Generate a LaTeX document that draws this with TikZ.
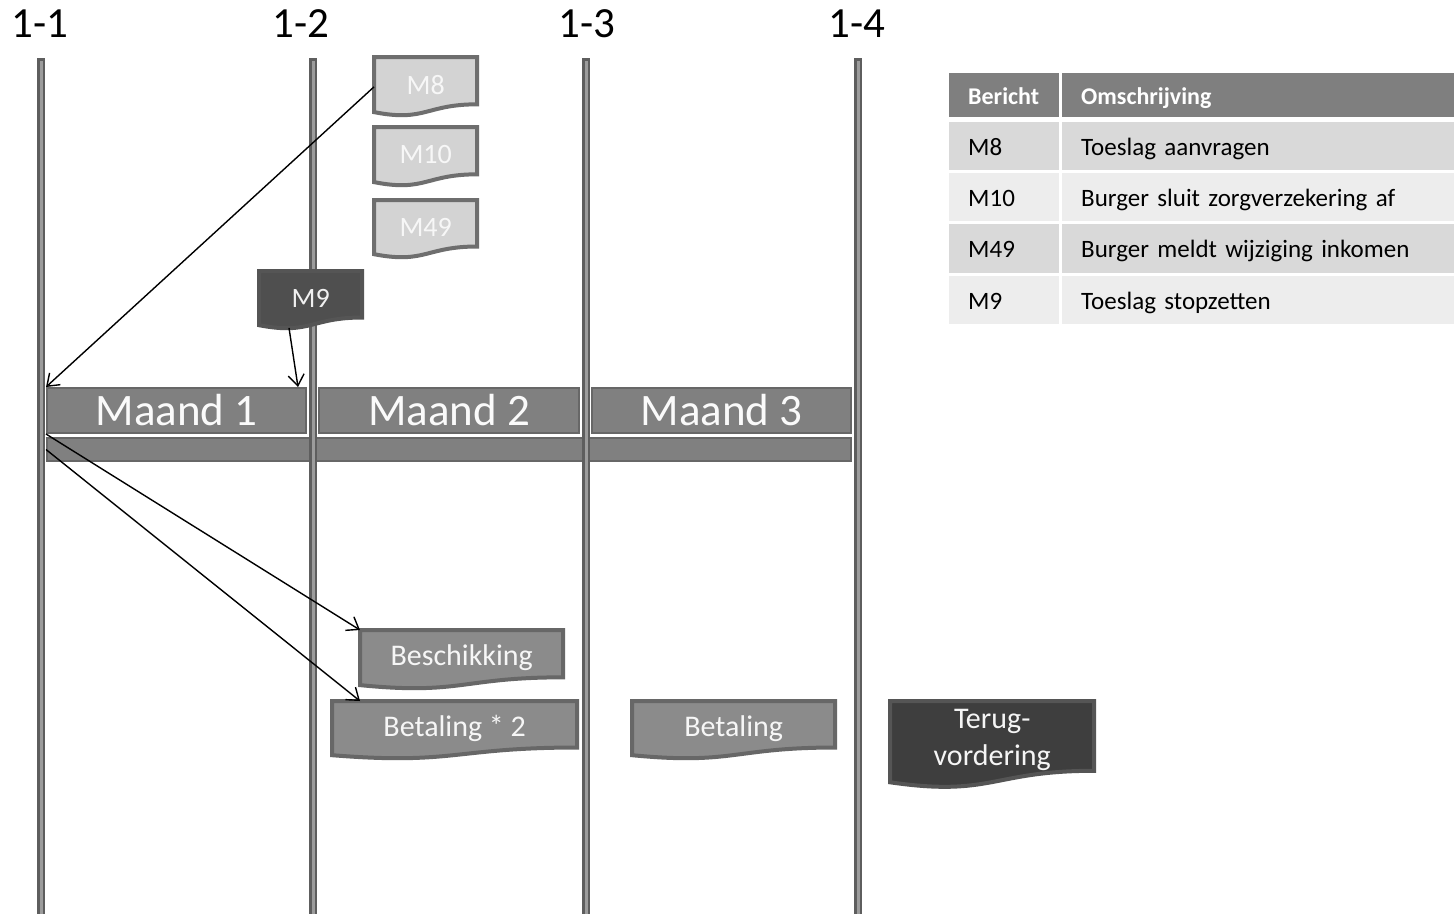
\documentclass[tikz,border=0pt]{standalone}
\usepackage{fontspec}
\setmainfont{Carlito}
\usetikzlibrary{arrows.meta}
\definecolor{lineDark}{HTML}{5E5E5E}
\definecolor{lineLight}{HTML}{9C9C9C}
\definecolor{barFill}{HTML}{808080}
\definecolor{barDraw}{HTML}{676767}
\definecolor{docLight}{HTML}{D3D3D3}
\definecolor{docBorder}{HTML}{6E6E6E}
\definecolor{docMid}{HTML}{8B8B8B}
\definecolor{docMidBorder}{HTML}{676767}
\definecolor{docDark}{HTML}{4F4F4F}
\definecolor{docDarker}{HTML}{3E3E3E}
\definecolor{docDarkBorder}{HTML}{555555}
\definecolor{hdr}{HTML}{7F7F7F}
\definecolor{rowA}{HTML}{D9D9D9}
\definecolor{rowB}{HTML}{EDEDED}
\newcommand\docnode[8]{%
  \path[#6] (#2,#3) -- ({#2+#4},#3) -- ({#2+#4},{#3+0.802*#5})
    .. controls ({#2+0.5*#4},{#3+0.802*#5}) and ({#2+0.5*#4},{#3+1.105*#5}) .. (#2,{#3+0.934*#5}) -- cycle;
  \node[doctxt, #7, minimum width=#4pt, minimum height={0.802*#5pt}] (#1) at (#2,#3) {#8};
}
\begin{document}
\begin{tikzpicture}[x=1pt,y=-1pt,
  lbl/.style={font=\fontsize{43}{50}\selectfont, inner sep=0pt},
  maand/.style={draw=barDraw, line width=2pt, fill=barFill, text=white!96!gray,
    font=\fontsize{45}{54}\selectfont, inner sep=0pt, anchor=north west},
  doctxt/.style={inner sep=0pt, anchor=north west, align=center, yshift=-4pt},
  docL/.style={fill=docLight, draw=docBorder, line width=4pt},
  docM/.style={fill=docMid, draw=docMidBorder, line width=4pt},
  docD/.style={fill=docDark, draw=docDarkBorder, line width=4pt},
  docX/.style={fill=docDarker, draw=docDarkBorder, line width=4pt},
  mfont/.style={font=\fontsize{28}{34}\selectfont},
  bfont/.style={font=\fontsize{30}{37}\selectfont},
  arr/.style={-{Straight Barb[length=11pt,width=16pt]}, line width=1.4pt, black},
  cell/.style={anchor=north west, inner xsep=19pt, inner ysep=0pt, align=left,
    font=\fontsize{25}{30}\selectfont, execute at begin node={\rule[-6pt]{0pt}{30pt}}},
  hcell/.style={cell, fill=hdr, text=white, font=\fontsize{24}{30}\selectfont\bfseries, minimum height=44pt},
]
\useasboundingbox[fill=white] (0,0) rectangle (1454,914);

% column labels
\node[lbl] (t1) at (40,24) {1-1};
\node[lbl] (t2) at (301,24) {1-2};
\node[lbl] (t3) at (587,24) {1-3};
\node[lbl] (t4) at (857,24) {1-4};

% lower long bar
\node[maand, minimum width=804pt, minimum height=23pt] (bar) at (46,437) {};

% vertical time lines
\foreach \xx in {41,313,586,858}{
  \draw[lineDark, line width=8pt] (\xx,58) -- (\xx,914);
  \draw[lineLight, line width=3pt] (\xx,61) -- (\xx,914);
}

% months
\node[maand, minimum width=259pt, minimum height=45pt] (m1) at (46,387) {Maand 1};
\node[maand, minimum width=260pt, minimum height=45pt] (m2) at (318,387) {Maand 2};
\node[maand, minimum width=259pt, minimum height=45pt] (m3) at (591,387) {Maand 3};

% messages
\docnode{m8}{374}{57}{103}{59}{docL}{mfont, text=white!94!gray}{M8}
\docnode{m10}{374}{127}{103}{59}{docL}{mfont, text=white!94!gray}{M10}
\docnode{m49}{374}{200}{103}{58}{docL}{mfont, text=white!94!gray}{M49}
\docnode{m9}{259}{271}{103}{58}{docD}{mfont, text=white!88!gray}{M9}

\docnode{besch}{360}{630}{203}{59}{docM}{bfont, text=white!93!gray}{Beschikking}
\docnode{bet2}{332}{701}{245}{58}{docM}{bfont, text=white!93!gray}{Betaling * 2}
\docnode{bet}{632}{701}{203}{58}{docM}{bfont, text=white!93!gray}{Betaling}
\docnode{terug}{890}{701}{204}{87}{docX}{bfont, text=white!92!gray}{Terug-\\vordering}

% arrows
\draw[arr] ([yshift=-2pt]m8.west) -- (m1.north west);
\draw[arr] ([xshift=30pt,yshift=-6pt]m9.south west) -- ([xshift=-9pt]m1.north east);
\draw[arr] (m1.south west) -- ([yshift=4pt]besch.north west);
\draw[arr] (bar.west) -- ([xshift=28pt,yshift=4pt]bet2.north west);

% table
\node[hcell, text width=72pt] (h1) at (949,73) {Bericht};
\node[hcell, text width=354pt] (h2) at (1062,73) {Omschrijving};
\node[cell, fill=rowA, text width=72pt, minimum height=48pt] (r1a) at (949,122) {M8};
\node[cell, fill=rowA, text width=354pt, minimum height=48pt] (r1b) at (1062,122) {Toeslag aanvragen};
\node[cell, fill=rowB, text width=72pt, minimum height=48pt] (r2a) at (949,173) {M10};
\node[cell, fill=rowB, text width=354pt, minimum height=48pt] (r2b) at (1062,173) {Burger sluit zorgverzekering af};
\node[cell, fill=rowA, text width=72pt, minimum height=49pt] (r3a) at (949,224) {M49};
\node[cell, fill=rowA, text width=354pt, minimum height=49pt] (r3b) at (1062,224) {Burger meldt wijziging inkomen};
\node[cell, fill=rowB, text width=72pt, minimum height=48pt] (r4a) at (949,276) {M9};
\node[cell, fill=rowB, text width=354pt, minimum height=48pt] (r4b) at (1062,276) {Toeslag stopzetten};
\end{tikzpicture}
\end{document}
